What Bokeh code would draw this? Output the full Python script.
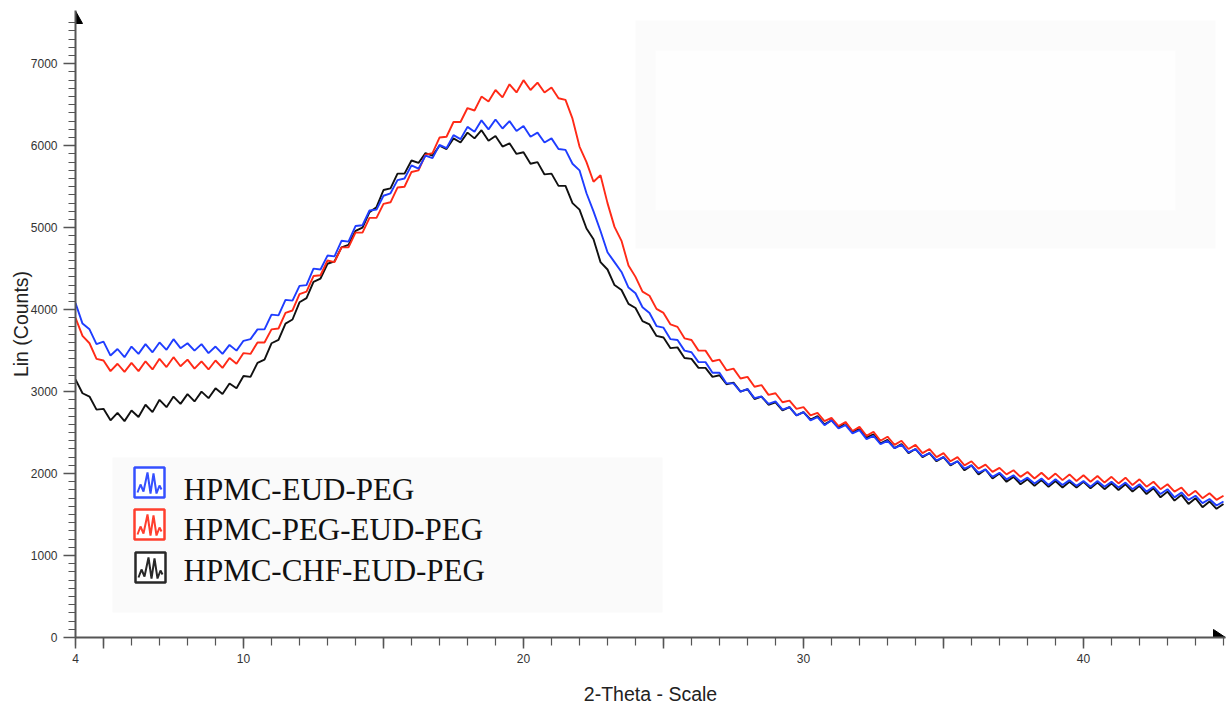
from bokeh.plotting import figure
from bokeh.models import FixedTicker, Range1d
from bokeh.core.properties import value
from bokeh.embed import file_html
from bokeh.resources import INLINE

# ---------------- data ----------------
two_theta = [4.0 + 0.25 * i for i in range(165)]

hpmc_eud_peg = [
    4080, 3830, 3760, 3580, 3610, 3440, 3520, 3420, 3550, 3460, 3580, 3480,
    3600, 3510, 3640, 3530, 3590, 3500, 3580, 3470, 3550, 3460, 3570, 3500,
    3620, 3640, 3760, 3760, 3940, 3930, 4120, 4110, 4290, 4300, 4500, 4490,
    4660, 4650, 4840, 4830, 5020, 5030, 5210, 5220, 5390, 5420, 5580, 5600,
    5760, 5720, 5880, 5850, 6010, 5970, 6130, 6080, 6230, 6170, 6310, 6200,
    6320, 6210, 6300, 6180, 6240, 6110, 6160, 6040, 6090, 5960, 5950, 5780,
    5700, 5420, 5200, 4960, 4700, 4580, 4460, 4270, 4200, 4030, 3960, 3800,
    3780, 3640, 3630, 3500, 3480, 3360, 3360, 3230, 3230, 3100, 3100, 3000,
    3030, 2920, 2940, 2850, 2880, 2780, 2810, 2710, 2750, 2650, 2690, 2590,
    2650, 2550, 2590, 2490, 2530, 2420, 2460, 2360, 2400, 2310, 2350, 2260,
    2300, 2210, 2250, 2160, 2200, 2110, 2150, 2060, 2100, 2010, 2050, 1960,
    2010, 1930, 1980, 1900, 1950, 1880, 1940, 1860, 1930, 1860, 1920, 1850,
    1910, 1840, 1910, 1840, 1900, 1830, 1890, 1810, 1870, 1780, 1840, 1750,
    1810, 1710, 1770, 1680, 1730, 1640, 1690, 1610, 1660,
]

hpmc_peg_eud_peg = [
    3900, 3680, 3590, 3400, 3380, 3250, 3340, 3240, 3350, 3250, 3370, 3270,
    3400, 3300, 3420, 3310, 3390, 3280, 3370, 3270, 3380, 3290, 3410, 3340,
    3470, 3460, 3600, 3600, 3760, 3770, 3960, 3990, 4190, 4220, 4410, 4420,
    4600, 4580, 4760, 4760, 4940, 4940, 5120, 5120, 5290, 5310, 5490, 5500,
    5680, 5700, 5890, 5910, 6100, 6110, 6290, 6290, 6460, 6430, 6600, 6540,
    6680, 6590, 6750, 6650, 6800, 6680, 6770, 6650, 6710, 6580, 6560, 6330,
    5990, 5800, 5560, 5640, 5300, 5010, 4840, 4540, 4400, 4220, 4170, 4010,
    3960, 3820, 3790, 3650, 3630, 3500, 3500, 3370, 3390, 3260, 3280, 3160,
    3180, 3060, 3080, 2960, 2980, 2870, 2890, 2790, 2810, 2710, 2740, 2640,
    2680, 2580, 2630, 2520, 2570, 2460, 2510, 2400, 2450, 2350, 2400, 2300,
    2350, 2250, 2300, 2200, 2250, 2150, 2200, 2100, 2150, 2060, 2110, 2020,
    2070, 1990, 2040, 1960, 2020, 1940, 2010, 1930, 2000, 1920, 1990, 1910,
    1980, 1900, 1970, 1890, 1960, 1880, 1950, 1860, 1930, 1840, 1900, 1810,
    1870, 1780, 1830, 1730, 1790, 1700, 1760, 1680, 1730,
]

hpmc_chf_eud_peg = [
    3150, 2980, 2940, 2780, 2790, 2650, 2740, 2640, 2770, 2690, 2840, 2750,
    2900, 2810, 2940, 2850, 2970, 2880, 3000, 2920, 3040, 2970, 3100, 3040,
    3190, 3180, 3350, 3390, 3590, 3630, 3830, 3880, 4090, 4140, 4340, 4380,
    4560, 4590, 4760, 4790, 4960, 5000, 5190, 5250, 5460, 5480, 5660, 5660,
    5820, 5790, 5910, 5880, 6000, 5960, 6090, 6040, 6160, 6090, 6190, 6060,
    6120, 5990, 6030, 5900, 5920, 5780, 5800, 5650, 5660, 5510, 5510, 5300,
    5220, 4990, 4860, 4580, 4490, 4300, 4240, 4070, 4020, 3860, 3820, 3680,
    3660, 3530, 3540, 3410, 3400, 3290, 3290, 3180, 3200, 3090, 3110, 3000,
    3030, 2910, 2940, 2840, 2870, 2770, 2810, 2710, 2750, 2660, 2700, 2600,
    2650, 2560, 2620, 2510, 2550, 2440, 2480, 2370, 2410, 2310, 2360, 2250,
    2300, 2200, 2250, 2150, 2200, 2100, 2150, 2040, 2100, 1990, 2050, 1940,
    2000, 1900, 1960, 1870, 1930, 1850, 1920, 1840, 1910, 1830, 1900, 1830,
    1900, 1820, 1890, 1810, 1880, 1800, 1870, 1780, 1850, 1750, 1820, 1710,
    1780, 1670, 1740, 1630, 1700, 1590, 1660, 1570, 1630,
]

series_names = ["HPMC-EUD-PEG", "HPMC-PEG-EUD-PEG", "HPMC-CHF-EUD-PEG"]
series_colors = ["#1f3dff", "#ff2a17", "#111111"]
series_values = [hpmc_eud_peg, hpmc_peg_eud_peg, hpmc_chf_eud_peg]

x_major_ticks = [4, 5, 10, 15, 20, 25, 30, 35, 40]
x_unlabelled = [5, 15, 25, 35]
x_minor_ticks = list(range(4, 46))
y_major_ticks = list(range(0, 8000, 1000))
y_minor_ticks = list(range(0, 7600, 100))

# ---------------- figure geometry ----------------
W, H = 1228, 710
FRAME_L, FRAME_R, FRAME_T, FRAME_B = 75, 1225, 10, 637
PX_PER_X = 28.0          # screen px per degree
PX_PER_Y = 0.08196       # screen px per count
X0 = 4.0
X1 = X0 + (FRAME_R - FRAME_L) / PX_PER_X
Y0 = 0.0
Y1 = (FRAME_B - FRAME_T) / PX_PER_Y


def px2x(px):
    return X0 + (px - FRAME_L) / PX_PER_X


def px2y(py):
    return (FRAME_B - py) / PX_PER_Y


p = figure(width=W, height=H, x_range=Range1d(X0, X1), y_range=Range1d(Y0, Y1),
           min_border_left=FRAME_L, min_border_right=W - FRAME_R,
           min_border_top=FRAME_T, min_border_bottom=H - FRAME_B,
           output_backend="svg", toolbar_location=None)
p.outline_line_color = None
p.grid.visible = False
p.background_fill_color = "white"
p.border_fill_color = "white"

# faint pasted-image background boxes
p.quad(left=[px2x(635)], right=[px2x(1215)], top=[px2y(20)], bottom=[px2y(248)],
       fill_color="#fbfbfb", line_color=None)
p.quad(left=[px2x(655)], right=[px2x(1175)], top=[px2y(50)], bottom=[px2y(210)],
       fill_color="#fefefe", line_color=None)
p.quad(left=[px2x(112)], right=[px2x(662)], top=[px2y(457)], bottom=[px2y(612)],
       fill_color="#fafafa", line_color=None)

# series (black, red, blue drawing order so blue is on top)
for idx in [2, 1, 0]:
    p.line(two_theta, series_values[idx], line_color=series_colors[idx], line_width=1.9)

# custom legend with zig-zag icons
icon_cx = [149, 149, 150]
icon_cy = [482, 524, 567]
text_base = [489, 529, 570]
zig = [(-12, -10), (-9, -2), (-6, -9), (-2, 10), (1, -11), (4, 9), (7, -11), (10, -3), (12, -7)]
for i, name in enumerate(series_names):
    c = series_colors[i]
    p.rect([px2x(icon_cx[i])], [px2y(icon_cy[i])], width=30, height=30,
           width_units="screen", height_units="screen",
           fill_color="white", line_color=c, line_width=2.5, line_alpha=0.9)
    zx = [px2x(icon_cx[i] + dx) for dx, dy in zig]
    zy = [px2y(icon_cy[i] - dy) for dx, dy in zig]
    p.line(zx, zy, line_color=c, line_width=2, line_alpha=0.9)
    p.text([px2x(183)], [px2y(text_base[i])], text=[name],
           text_font=value("Liberation Serif"), text_font_size="31px",
           text_color="#111111", text_baseline="alphabetic", text_align="left")

# axis arrow heads
p.patch([px2x(75), px2x(75), px2x(82)], [px2y(10.5), px2y(23), px2y(23)],
        fill_color="black", line_color="black", line_width=1)
p.patch([px2x(1213), px2x(1225), px2x(1213)], [px2y(629), px2y(637), px2y(637)],
        fill_color="black", line_color="black", line_width=1)

# axes
for ax in [p.xaxis[0], p.yaxis[0]]:
    ax.axis_line_color = "#555555"
    ax.axis_line_width = 2
    ax.major_tick_line_color = "#555555"
    ax.minor_tick_line_color = "#555555"
    ax.major_tick_line_width = 1.5
    ax.minor_tick_line_width = 1.2
    ax.major_tick_in = 0
    ax.minor_tick_in = 0
    ax.major_label_text_font = "Liberation Sans"
    ax.major_label_text_font_size = "12px"
    ax.major_label_text_color = "#333333"
    ax.axis_label_text_font = "Liberation Sans"
    ax.axis_label_text_font_size = "19.5px"
    ax.axis_label_text_font_style = "normal"
    ax.axis_label_text_color = "#222222"

p.xaxis.ticker = FixedTicker(ticks=x_major_ticks, minor_ticks=x_minor_ticks)
p.xaxis.major_label_overrides = {t: "" for t in x_unlabelled}
p.xaxis.major_tick_out = 11
p.xaxis.minor_tick_out = 8
p.xaxis.major_label_standoff = 5
p.xaxis.axis_label = "2-Theta - Scale"
p.xaxis.axis_label_standoff = 17

p.yaxis.ticker = FixedTicker(ticks=y_major_ticks, minor_ticks=y_minor_ticks)
p.yaxis.major_tick_out = 12
p.yaxis.minor_tick_out = 7
p.yaxis.major_label_standoff = 6
p.yaxis.axis_label = "Lin (Counts)"
p.yaxis.axis_label_standoff = -4

open("out.html", "w").write(file_html(p, INLINE))
